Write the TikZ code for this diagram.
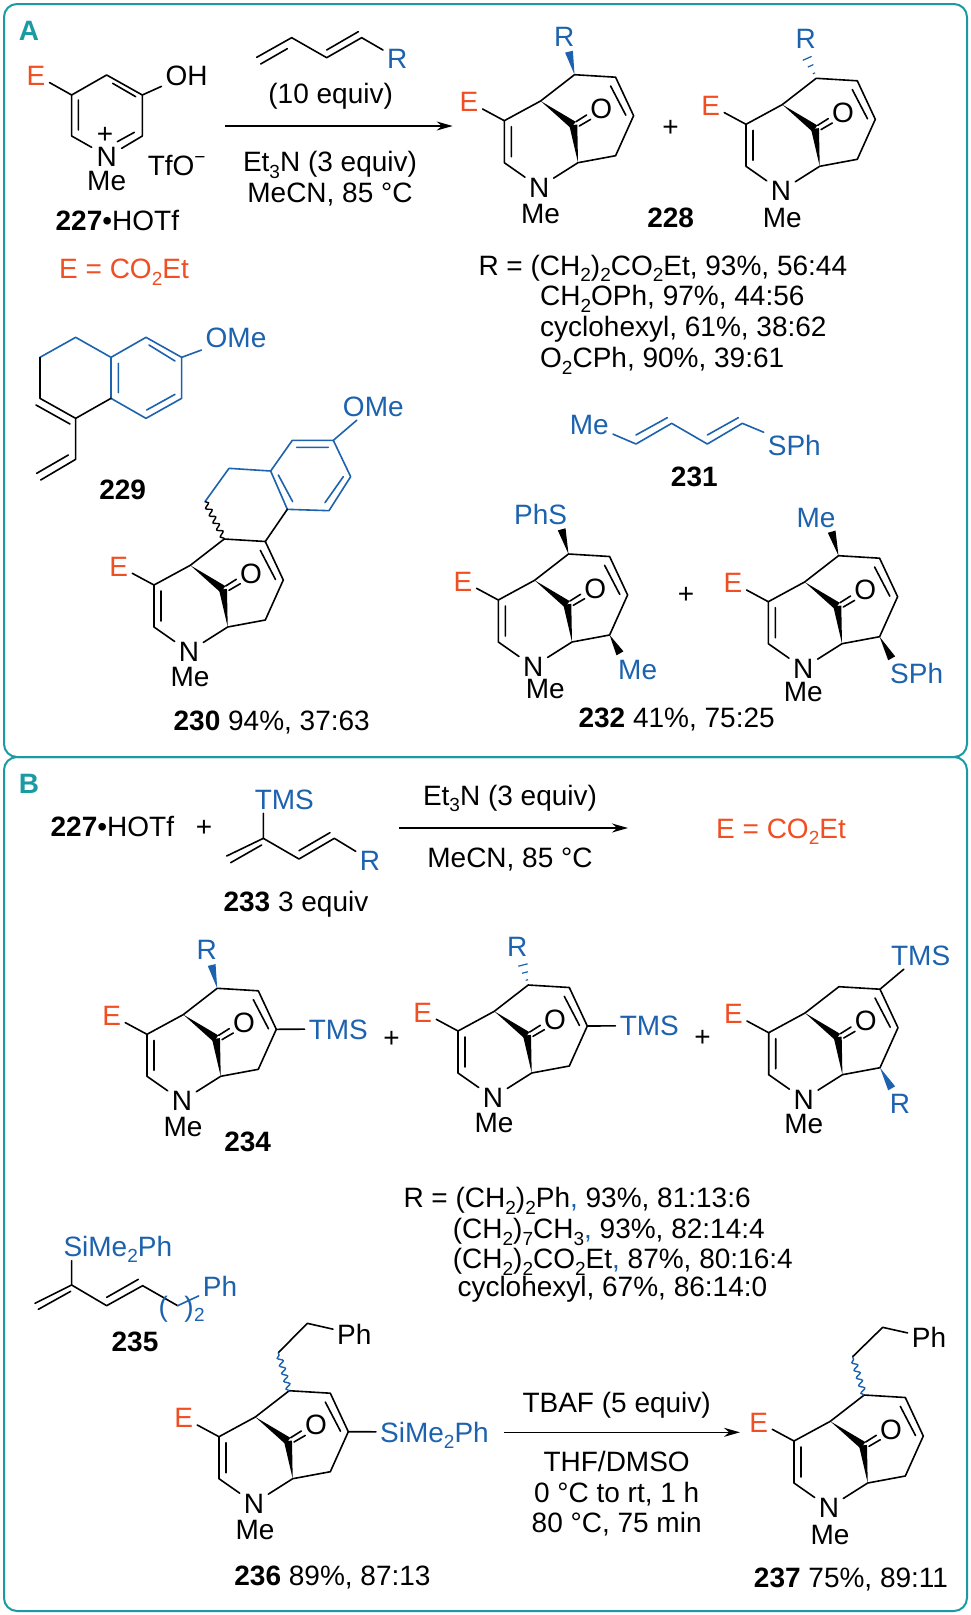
\documentclass[tikz,border=0pt]{standalone}
\usepackage{fontspec}
\setmainfont{Liberation Sans}
\usetikzlibrary{calc,arrows.meta,decorations.pathmorphing}
\definecolor{oc}{HTML}{F04E23}
\definecolor{bl}{HTML}{1C62AE}
\definecolor{tl}{HTML}{1A9BA3}
\newcommand\sbs[1]{\raisebox{-.24em}{\fontsize{19pt}{19pt}\selectfont #1}}
\newcommand\wdg[3][black]{\fill[#1] (#2) -- ($(#3)!4pt!90:(#2)$) -- ($(#3)!4pt!-90:(#2)$) -- cycle;}
\newcommand\hsh[2]{\foreach \t/\w in {.2/1.2,.5/3,.8/4.8}{\draw[bl,line width=1.2pt] ($($(#1)!\t!(#2)$)!\w pt!90:(#2)$) -- ($($(#1)!\t!(#2)$)!\w pt!-90:(#2)$);}}
\newcommand\core[4]{%
\begin{scope}[shift={(#2,#3)}]
\coordinate (#1c3) at (0,0);
\coordinate (#1c2) at (0,42);
\coordinate (#1c5) at (73.7,42);
\coordinate (#1c1) at (36.3,-19.7);
\coordinate (#1co) at (69,4.3);
\coordinate (#1c7) at (70.2,-46);
\coordinate (#1c8) at (111.3,-43.5);
\coordinate (#1c9) at (129.3,-5);
\coordinate (#1c10) at (111.3,35);
\node[lab,oc] (#1E) at (-35.3,-19) {E};
\node[lab] (#1N) at (35,66.5) {N};
\node[lab] (#1M) at (#4) {Me};
\node[lab] (#1O) at (97,-12) {O};
\draw[bond] (#1E)--(#1c3)--(#1c2)--(#1N) (#1N)--(#1c5)--(#1c10)--(#1c9)--(#1c8)--(#1c7)--(#1c1)--(#1c3);
\draw[bond] (7,6)--(7,36) (106.3,-34.7)--(121.5,-5.5) (71.7,1)--(82.3,-5.7) (75,5.3)--(86.3,-1.3);
\wdg{#1c1}{#1co}
\wdg{#1c5}{#1co}
\end{scope}}
\tikzset{
  lab/.style={inner sep=4pt,text height=20pt,text depth=0pt,font=\fontsize{28pt}{30pt}\selectfont},
  txt/.style={lab,inner sep=0pt,anchor=west},
  bond/.style={line width=1.6pt,line cap=round,line join=round},
  panel/.style={draw=tl,line width=2pt,rounded corners=13pt},
  zm/.style 2 args={shift={(#1,#2)},x=0.33333pt,y=-0.33333pt},
  rxn/.style={line width=1.6pt,-{Stealth[length=16pt,width=9pt]}},
  wavy/.style={line width=1.4pt,decorate,decoration={snake,segment length=8pt,amplitude=2.6pt}},
}
\begin{document}
\begin{tikzpicture}[x=1pt,y=-1pt]
\useasboundingbox (0,0) rectangle (971,1615);
\fill[white] (0,0) rectangle (971,1615);
\draw[panel] (4,4) rectangle (967,757);
\draw[panel] (4,757) rectangle (967,1611);
\node[lab,tl,font=\fontsize{28pt}{30pt}\selectfont\bfseries] (tagA) at (29,30) {A};
\node[lab,tl,font=\fontsize{28pt}{30pt}\selectfont\bfseries] (tagB) at (29,783) {B};
%% 227
\begin{scope}[zm={0}{0}]
\node[lab,oc] (e227) at (108,225) {E};
\node[lab] (oh) at (560,225) {OH};
\node[lab] (n227) at (320,468) {N};
\node[lab] (me227) at (320,540) {Me};
\node[lab] (pl227) at (315,400) {+};
\node[lab] (tfo) at (530,497) {TfO\raisebox{.42em}{\fontsize{19pt}{19pt}\selectfont −}};
\node[lab] (l227) at (352,660) {\textbf{227}•HOTf};
\node[lab,oc] (eq1) at (372,805) {E = CO\sbs{2}Et};
\draw[bond] (e227)--(215,285)--(320,225)--(427,285)--(oh);
\draw[bond] (215,285)--(215,408)--(275,442) (427,285)--(427,408)--(365,445);
\draw[bond] (235,300)--(235,390) (338,250)--(407,290) (403,397)--(352,425);
%% diene
\node[lab,bl] (r1) at (1192,175) {R};
\draw[bond] (770,172)--(875,113)--(980,173)--(1085,113)--(r1);
\draw[bond] (782,192)--(862,146) (980,150)--(1075,95);
\node[lab] (eq10) at (992,280) {(10 equiv)};
\node[lab] (et1) at (990,485) {Et\sbs{3}N (3 equiv)};
\node[lab] (mc1) at (990,578) {MeCN, 85 °C};
\coordinate (a1s) at (676,378);
\coordinate (a1e) at (1358,378);
\draw[rxn] (a1s)--(a1e);
\end{scope}
%% 228
\core{a}{504.3}{120.7}{36.3,92.7}
\core{b}{746}{124.3}{36.3,92.7}
\begin{scope}[zm={420}{0}]
\node[lab,bl] (ra) at (433,110) {R};
\coordinate (wa) at (447,155);
\wdg[bl]{ac7}{wa}
\node[lab,bl] (rb) at (1157,115) {R};
\coordinate (wb) at (1155,160);
\hsh{bc7}{wb}
\node[lab] (pl1) at (752,380) {+};
\node[lab] (l228) at (752,653) {\textbf{228}};
\end{scope}
%% R list A
\node[txt] (ra1) at (478.3,265) {R = (CH\sbs{2})\sbs{2}CO\sbs{2}Et, 93\%, 56:44};
\node[txt] (ra2) at (540,295.7) {CH\sbs{2}OPh, 97\%, 44:56};
\node[txt] (ra3) at (540,326.7) {cyclohexyl, 61\%, 38:62};
\node[txt] (ra4) at (540,357.3) {O\sbs{2}CPh, 90\%, 39:61};
%% 229 and 230
\begin{scope}[zm={0}{300}]
\node[lab,bl] (om1) at (708,112) {OMe};
\node[lab] (l229) at (368,568) {\textbf{229}};
\draw[bond,bl] (120,172)--(227,112)--(333,172)--(438,112)--(545,172)--(545,295)--(438,355)--(333,295)--(333,172);
\draw[bond,bl] (545,172)--(om1);
\draw[bond,bl] (355,190)--(355,278) (447,135)--(525,183) (525,283)--(440,330);
\draw[bond] (120,172)--(120,295)--(227,355)--(333,295) (108,315)--(210,372) (227,355)--(227,478)--(122,540) (110,520)--(205,465);
\end{scope}
\core{c}{154}{585}{36,91}
\begin{scope}[zm={0}{300}]
\node[lab,bl] (om2) at (1120,318) {OMe};
\coordinate (c0) at (862,628);
\coordinate (c1) at (812,513);
\coordinate (c2) at (877,421);
\coordinate (c3x) at (1000,421);
\coordinate (c4) at (1052,530);
\coordinate (c5x) at (987,632);
\coordinate (c6) at (687,505);
\coordinate (c7w) at (615,605);
\draw[bond,bl] (c0)--(c1)--(c2)--(c3x)--(c4)--(c5x)--cycle (c1)--(c6)--(c7w) (c3x)--(om2);
\draw[bond,bl] (835,525)--(878,605) (890,442)--(985,442) (1030,530)--(975,608);
\draw[bond] (cc8)--(c0);
\draw[wavy] (c7w)--(cc7);
\end{scope}
\node[lab] (l230) at (271.7,720) {\textbf{230} 94\%, 37:63};
%% 231
\begin{scope}[zm={460}{240}]
\node[lab,bl] (me231) at (388,552) {Me};
\node[lab,bl] (sph231) at (1003,615) {SPh};
\draw[bond,bl] (me231)--(528,612)--(635,550)--(742,612)--(847,550)--(sph231);
\draw[bond,bl] (528,585)--(622,533) (742,585)--(835,533);
\node[lab] (l231) at (703,708) {\textbf{231}};
\node[lab] (pl2) at (678,1060) {+};
\end{scope}
%% 232
\core{d}{498.3}{600}{47,88}
\core{e}{768.3}{601.7}{35,90}
\begin{scope}[zm={460}{240}]
\node[lab,bl] (phs) at (242,823) {PhS};
\coordinate (wd1) at (305,868);
\wdg{dc7}{wd1}
\node[lab,bl] (med) at (533,1288) {Me};
\coordinate (wd2) at (480,1240);
\wdg{dc10}{wd2}
\node[lab,bl] (mee) at (1068,832) {Me};
\coordinate (we1) at (1115,875);
\wdg{ec7}{we1}
\node[lab,bl] (sphe) at (1370,1300) {SPh};
\coordinate (we2) at (1295,1255);
\wdg{ec10}{we2}
\node[lab] (l232) at (650,1432) {\textbf{232} 41\%, 75:25};
\end{scope}
%% B top
\begin{scope}[zm={0}{720}]
\node[lab] (h227) at (337,320) {\textbf{227}•HOTf};
\node[lab] (plb) at (612,320) {+};
\node[lab,bl] (tms1) at (853,237) {TMS};
\node[lab,bl] (r233) at (1110,420) {R};
\coordinate (k0) at (790,355);
\draw[bond] (790,280)--(k0)--(897,417)--(1003,355)--(r233);
\draw[bond] (680,408)--(k0) (692,428)--(785,375) (897,392)--(990,338);
\node[lab] (l233) at (888,543) {\textbf{233} 3 equiv};
\end{scope}
\coordinate (a2s) at (399,828);
\coordinate (a2e) at (628,828);
\draw[rxn] (a2s)--(a2e);
\node[lab] (et2) at (510,795) {Et\sbs{3}N (3 equiv)};
\node[lab] (mc2) at (510,857) {MeCN, 85 °C};
\node[lab,oc] (eq2) at (781,828) {E = CO\sbs{2}Et};
%% 234 series
\core{f}{147}{1034.3}{36,91.7}
\core{g}{458}{1031}{36,91.7}
\core{h}{768.7}{1032.7}{35,91}
\node[lab,bl] (tmsf) at (338.3,1029) {TMS};
\draw[bond] (fc9)--(tmsf);
\node[lab,bl] (tmsg) at (649.3,1025.7) {TMS};
\draw[bond] (gc9)--(tmsg);
\begin{scope}[zm={80}{900}]
\node[lab,bl] (rf) at (380,148) {R};
\coordinate (wf) at (395,195);
\wdg[bl]{fc7}{wf}
\node[lab] (l234) at (503,725) {\textbf{234}};
\node[lab] (pl3) at (935,412) {+};
\end{scope}
\begin{scope}[zm={500}{900}]
\node[lab,bl] (rg) at (52,140) {R};
\coordinate (wg) at (65,180);
\hsh{gc7}{wg}
\node[lab] (pl4) at (608,408) {+};
\node[lab,bl] (tmsh) at (1262,165) {TMS};
\draw[bond] (hc8)--(tmsh);
\node[lab,bl] (rh) at (1200,610) {R};
\coordinate (wh) at (1175,565);
\wdg[bl]{hc10}{wh}
\end{scope}
%% R list B
\node[txt] (rb1) at (403.3,1197.7) {R = (CH\sbs{2})\sbs{2}Ph{\color{bl},} 93\%, 81:13:6};
\node[txt] (rb2) at (452.7,1228.3) {(CH\sbs{2})\sbs{7}CH\sbs{3}{\color{bl},} 93\%, 82:14:4};
\node[txt] (rb3) at (452.7,1258.3) {(CH\sbs{2})\sbs{2}CO\sbs{2}Et{\color{bl},} 87\%, 80:16:4};
\node[txt] (rb4) at (457.3,1286.7) {cyclohexyl, 67\%, 86:14:0};
%% 235
\begin{scope}[zm={0}{1170}]
\node[lab,bl,anchor=west] (si1) at (178,228) {SiMe\sbs{2}Ph};
\node[lab,bl] (ph235) at (660,348) {Ph};
\coordinate (m0) at (215,345);
\coordinate (m1) at (533,407);
\draw[bond] (215,272)--(m0)--(320,407)--(428,347)--(m1);
\draw[bond] (105,400)--(m0) (115,418)--(212,364) (320,382)--(415,328);
\draw[bond,bl] (m1)--(ph235);
\node[lab,bl,inner sep=0pt] (pa) at (490,410) {(};
\node[lab,bl,inner sep=0pt] (pb) at (567,410) {)};
\node[bl,font=\fontsize{19pt}{19pt}\selectfont,inner sep=0pt] (n2) at (598,434) {2};
\node[lab] (l235) at (405,515) {\textbf{235}};
\end{scope}
%% 236
\core{i}{219}{1436.7}{36,92.7}
\node[lab,bl,anchor=west] (si2) at (376,1432) {SiMe\sbs{2}Ph};
\draw[bond] (ic9)--(si2);
\begin{scope}[zm={0}{1170}]
\node[lab] (ph236) at (1063,492) {Ph};
\coordinate (i1) at (835,548);
\coordinate (i2) at (922,460);
\draw[bond] (i1)--(i2)--(ph236);
\draw[wavy,bl] (ic7)--(i1);
\end{scope}
\node[lab] (l236) at (332.5,1575) {\textbf{236} 89\%, 87:13};
%% arrow B2
\coordinate (a3s) at (504,1432.3);
\coordinate (a3e) at (740,1432.3);
\draw[rxn] (a3s)--(a3e);
\begin{scope}[zm={480}{1240}]
\node[lab] (tb1) at (410,487) {TBAF (5 equiv)};
\node[lab] (tb2) at (410,665) {THF/DMSO};
\node[lab] (tb3) at (410,757) {0 °C to rt, 1 h};
\node[lab] (tb4) at (410,848) {80 °C, 75 min};
\end{scope}
%% 237
\core{j}{794}{1441}{36,93}
\begin{scope}[zm={480}{1240}]
\node[lab] (ph237) at (1347,293) {Ph};
\coordinate (j1) at (1118,350);
\coordinate (j2) at (1208,262);
\draw[bond] (j1)--(j2)--(ph237);
\draw[wavy,bl] (jc7)--(j1);
\end{scope}
\node[lab] (l237) at (851,1577) {\textbf{237} 75\%, 89:11};
\end{tikzpicture}
\end{document}
